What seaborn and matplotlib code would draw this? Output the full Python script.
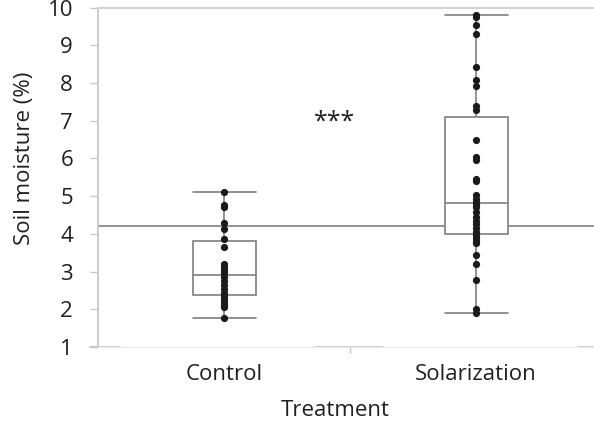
import matplotlib
matplotlib.use("Agg")
import matplotlib.pyplot as plt
import seaborn as sns
import pandas as pd

# ---- data ----
categories = ["Control", "Solarization"]
control = [1.76, 2.06, 2.12, 2.20, 2.28, 2.35, 2.42, 2.55, 2.65, 2.75, 2.85,
           2.95, 3.05, 3.12, 3.20, 3.66, 3.85, 4.12, 4.28, 4.70, 4.76, 5.11]
solarization = [9.80, 9.76, 9.54, 9.29, 8.43, 8.08, 7.92, 7.40, 7.28,
                6.50, 6.05, 5.95, 5.45, 5.40, 5.02, 4.92, 4.85, 4.77,
                4.70, 4.58, 4.45, 4.35, 4.25, 4.15,
                4.05, 3.97, 3.90, 3.82, 3.75, 3.43, 3.21, 2.77, 2.00, 1.89]
reference_line = 4.21
y_ticks = list(range(1, 11))
signif_label = "***"
signif_pos = (0.44, 6.95)
x_label = "Treatment"
y_label = "Soil moisture (%)"

df = pd.DataFrame({
    "Treatment": [categories[0]] * len(control) + [categories[1]] * len(solarization),
    "Soil": control + solarization,
})

sns.set_theme(style="ticks")
plt.rcParams['font.family'] = ['Open Sans', 'DejaVu Sans']

text_col = "#231f20"
box_col = "#7f7f7f"
axis_col = "#c8c8c8"

fig = plt.figure(figsize=(5.94, 4.29), dpi=100)
ax = fig.add_axes([98 / 594, 82 / 429, 504 / 594, 339.5 / 429])

box_w = 0.25
sns.boxplot(data=df, x="Treatment", y="Soil", order=categories, width=box_w,
            color="white", linecolor=box_col, linewidth=1.2, showfliers=False,
            ax=ax)
# caps as wide as the box
for ln in list(ax.lines):
    xd, yd = ln.get_xdata(), ln.get_ydata()
    if len(xd) == 2 and yd[0] == yd[1]:
        c = round((xd[0] + xd[1]) / 2)
        ln.set_xdata([c - box_w / 2, c + box_w / 2])

sns.stripplot(data=df, x="Treatment", y="Soil", order=categories, jitter=False,
              color="#1a1a1a", size=5.2, linewidth=0, ax=ax, zorder=4)

ax.axhline(reference_line, color="#8a8a8a", lw=1.3, zorder=1.5)

ax.set_xlim(-0.5, 1.5)
ax.set_ylim(1, 10)
ax.set_yticks(y_ticks)
ax.set_xticks([0, 1])
ax.set_xticklabels(categories)
ax.set_xticks([0.5], minor=True)

ax.spines["right"].set_visible(False)
ax.spines["left"].set_color(axis_col)
ax.spines["left"].set_linewidth(1.3)
ax.spines["top"].set_color("#d2d2da")
ax.spines["top"].set_linewidth(1.5)
ax.spines["bottom"].set_color("#ececec")
ax.spines["bottom"].set_linewidth(1.0)
for a, b in [(-0.016, 0.044), (0.43, 0.565), (0.952, 1.0)]:
    ax.axhline(1, xmin=a, xmax=b, color="#c4c4c4", lw=1.3, clip_on=False)

ax.tick_params(axis="y", direction="out", length=6, width=1, color=axis_col,
               labelcolor=text_col, labelsize=16, pad=12)
ax.tick_params(axis="x", which="major", length=0, labelcolor=text_col,
               labelsize=16, pad=12)
ax.tick_params(axis="x", which="minor", length=4, width=1, color="#c4c4c4",
               direction="out")

ax.set_ylabel(y_label, fontsize=16, color=text_col)
ax.yaxis.set_label_coords(-0.125, 0.557)
ax.set_xlabel(x_label, fontsize=16, color=text_col)
ax.xaxis.set_label_coords(0.47, -0.156)

ax.text(signif_pos[0], signif_pos[1], signif_label, ha="center", va="center",
        fontsize=18, color=text_col)

fig.savefig("out.png", dpi=100)
